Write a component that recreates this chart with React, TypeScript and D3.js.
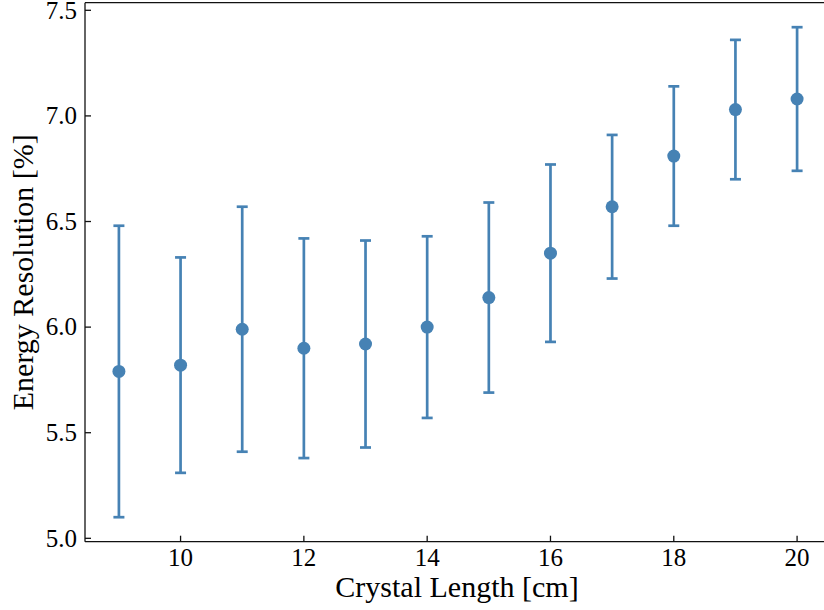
import React from "react";
import * as d3 from "d3";

const lengths = [9, 10, 11, 12, 13, 14, 15, 16, 17, 18, 19, 20];
const resolution = [5.79, 5.82, 5.99, 5.90, 5.92, 6.00, 6.14, 6.35, 6.57, 6.81, 7.03, 7.08];
const errors = [0.69, 0.51, 0.58, 0.52, 0.49, 0.43, 0.45, 0.42, 0.34, 0.33, 0.33, 0.34];
const xTicks = [10, 12, 14, 16, 18, 20];
const yTicks = [5.0, 5.5, 6.0, 6.5, 7.0, 7.5];

const W = 824, H = 610;
const left = 85, right = 831, top = 2.7, bottom = 541.7;
const color = "#4682b4";
const font = "'Liberation Serif', 'DejaVu Serif', serif";

export default function App() {
  const lo = d3.min(resolution.map((v, i) => v - errors[i]))!;
  const hi = d3.max(resolution.map((v, i) => v + errors[i]))!;
  const yPad = (hi - lo) * 0.05;
  const xPad = (d3.max(lengths)! - d3.min(lengths)!) * 0.05;
  const x = d3.scaleLinear().domain([d3.min(lengths)! - xPad, d3.max(lengths)! + xPad]).range([left, right]);
  const y = d3.scaleLinear().domain([lo - yPad, hi + yPad]).range([bottom, top]);
  const cap = 5.5;
  return (
    <svg width={W} height={H} style={{ position: "absolute", left: 0, top: 0, background: "#fff" }}>
      <rect x={0} y={0} width={W} height={H} fill="#fff" />
      {lengths.map((l, i) => {
        const cx = x(l);
        const y1 = y(resolution[i] + errors[i]);
        const y2 = y(resolution[i] - errors[i]);
        return (
          <g key={l}>
            <line x1={cx} x2={cx} y1={y1} y2={y2} stroke={color} strokeWidth={2.7} />
            <line x1={cx - cap} x2={cx + cap} y1={y1} y2={y1} stroke={color} strokeWidth={2.7} />
            <line x1={cx - cap} x2={cx + cap} y1={y2} y2={y2} stroke={color} strokeWidth={2.7} />
            <circle cx={cx} cy={y(resolution[i])} r={6.5} fill={color} />
          </g>
        );
      })}
      {/* spines */}
      <line x1={left} x2={left} y1={top} y2={bottom} stroke="#111" strokeWidth={1.3} />
      <line x1={left} x2={right} y1={bottom} y2={bottom} stroke="#111" strokeWidth={1.3} />
      <line x1={left} x2={right} y1={top} y2={top} stroke="#111" strokeWidth={1.3} />
      {yTicks.map((t) => (
        <g key={t}>
          <line x1={left} x2={left + 6} y1={y(t)} y2={y(t)} stroke="#111" strokeWidth={1.3} />
          <text x={left - 8} y={y(t)} dy="0.33em" textAnchor="end" fontFamily={font} fontSize={25} fill="#000">
            {t.toFixed(1)}
          </text>
        </g>
      ))}
      {xTicks.map((t) => (
        <g key={t}>
          <line x1={x(t)} x2={x(t)} y1={bottom} y2={bottom - 6} stroke="#111" strokeWidth={1.3} />
          <text x={x(t)} y={566} textAnchor="middle" fontFamily={font} fontSize={25} fill="#000">
            {t}
          </text>
        </g>
      ))}
      <text x={457} y={597} textAnchor="middle" fontFamily={font} fontSize={30} fill="#000">
        Crystal Length [cm]
      </text>
      <text transform={`translate(33, ${(top + bottom) / 2}) rotate(-90)`} textAnchor="middle" fontFamily={font} fontSize={30} fill="#000">
        Energy Resolution [%]
      </text>
    </svg>
  );
}
